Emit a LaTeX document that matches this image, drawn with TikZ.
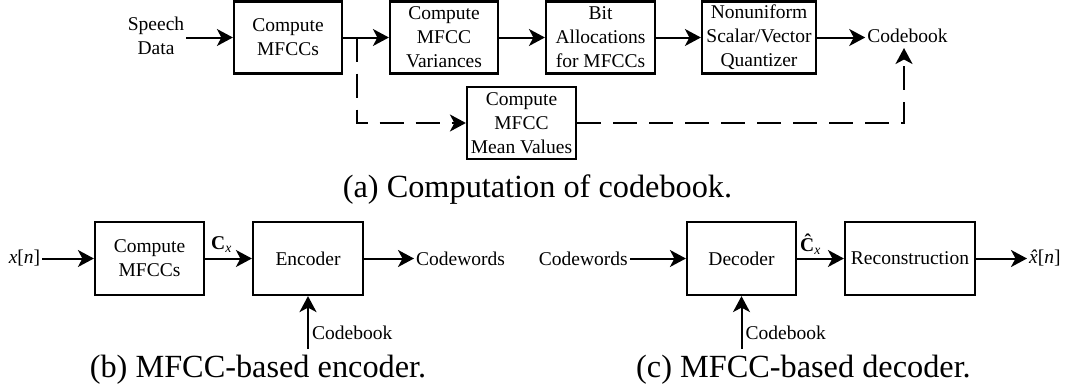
\documentclass[tikz,border=0pt]{standalone}
\usepackage{fontspec}
\setmainfont{Liberation Serif}
\usetikzlibrary{arrows.meta}
\newcommand{\myxhat}{\ooalign{\textit{x}\cr\hidewidth\textit{\char"02C6}\hidewidth\cr}}
\begin{document}
\begin{tikzpicture}[x=1pt,y=-1pt,
  every node/.style={font=\fontsize{19.5}{24}\selectfont},
  blk/.style={draw, line width=2.2pt, inner sep=0pt, align=center},
  lbl/.style={inner sep=2pt, align=center},
  captxt/.style={font=\fontsize{32.3}{36}\selectfont, anchor=base, inner sep=0pt},
  conn/.style={line width=2pt, -{Stealth[length=16pt,width=17pt,inset=4.5pt]}},
  dconn/.style={conn, dash pattern=on 24pt off 12pt}]
\useasboundingbox (0,0) rectangle (1071,391);
% ---- (a) ----
\node[blk, minimum width=108pt, minimum height=72pt] (m1) at (288,37.5) {Compute\\MFCCs};
\node[blk, minimum width=108pt, minimum height=72pt] (var) at (444,37.5) {Compute\\MFCC\\Variances};
\node[blk, minimum width=109pt, minimum height=72pt] (bit) at (600.5,37.5) {Bit\\Allocations\\for MFCCs};
\node[blk, minimum width=114pt, minimum height=72pt] (nq) at (759,37.5) {Nonuniform\\Scalar/Vector\\Quantizer};
\node[blk, minimum width=109pt, minimum height=72pt] (mean) at (521.5,123) {Compute\\MFCC\\Mean Values};
\node[lbl] (sd) at (156,36) {Speech\\Data};
\node[lbl] (cb1) at (907.5,36) {Codebook};
\coordinate (br) at (357,37.5);
\coordinate (brd) at (357,123);
\coordinate (cbin) at (904,48);
\draw[conn] (sd.east |- m1.west) -- (m1.west);
\draw[conn] (m1.east) -- (var.west);
\draw[conn] (var.east) -- (bit.west);
\draw[conn] (bit.east) -- (nq.west);
\draw[conn] (nq.east) -- (cb1.west |- nq.east);
\draw[dconn] (br) -- (brd) -- (mean.west);
\draw[dconn] (mean.east) -| (cbin);
\node[captxt] (capa) at (537.5,197) {(a) Computation of codebook.};
% ---- (b) ----
\node[blk, minimum width=109pt, minimum height=73pt] (m2) at (149.5,258.5) {Compute\\MFCCs};
\node[blk, minimum width=110pt, minimum height=73pt] (enc) at (308,258.5) {Encoder};
\node[lbl] (xn) at (24.5,258.5) {\textit{x}[\textit{n}]};
\node[lbl, anchor=west] (cw1) at (414,258.5) {Codewords};
\node[inner sep=0pt, anchor=base west] (cx) at (211,249) {\textbf{C}\textsubscript{\textit{x}}};
\coordinate (cbb) at (308,349);
\node[inner sep=0pt, anchor=west] (cb2) at (312,333) {Codebook};
\draw[conn] (xn.east) -- (m2.west);
\draw[conn] (m2.east) -- (enc.west);
\draw[conn] (enc.east) -- (cw1.west);
\draw[conn] (cbb) -- (enc.south);
\node[captxt] (capb) at (258,377) {(b) MFCC-based encoder.};
% ---- (c) ----
\node[blk, minimum width=109pt, minimum height=73pt] (dec) at (741.5,258.5) {Decoder};
\node[blk, minimum width=130pt, minimum height=73pt] (rec) at (910,258.5) {Reconstruction};
\node[lbl, anchor=east] (cw2) at (630,258.5) {Codewords};
\node[lbl, anchor=west] (xh) at (1027,258.5) {\myxhat[\textit{n}]};
\node[inner sep=0pt, anchor=base west] (chx) at (800,251) {\textbf{\^{C}}\textsubscript{\textit{x}}};
\coordinate (cbd) at (741.5,349);
\node[inner sep=0pt, anchor=west] (cb3) at (745.5,333) {Codebook};
\draw[conn] (cw2.east) -- (dec.west);
\draw[conn] (dec.east) -- (rec.west);
\draw[conn] (rec.east) -- (xh.west);
\draw[conn] (cbd) -- (dec.south);
\node[captxt] (capc) at (803.5,377) {(c) MFCC-based decoder.};
\end{tikzpicture}
\end{document}
